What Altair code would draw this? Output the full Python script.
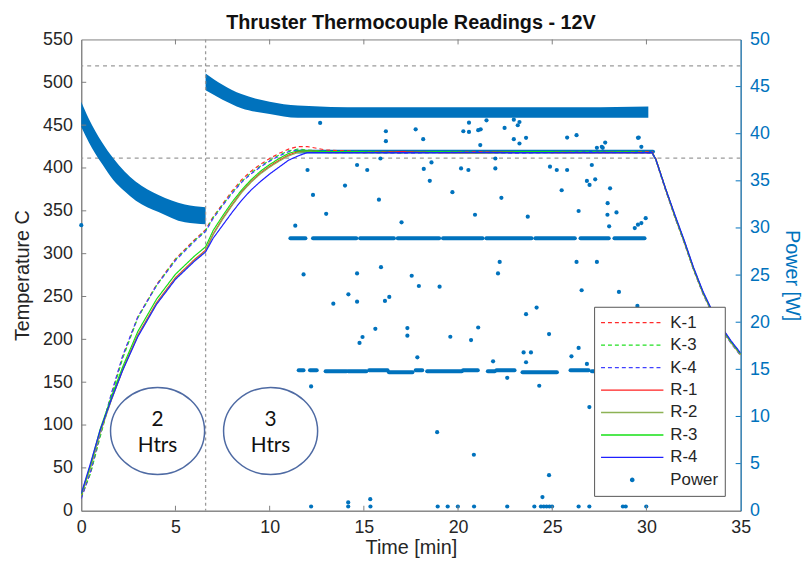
import altair as alt
import pandas as pd

TITLE = "Thruster Thermocouple Readings - 12V"

# ---------------- temperature series (deg C) ----------------
TIME = [0, 0.5, 1.0, 1.6, 2.2, 3.0, 4.0, 5.0, 6.0, 6.6,
        7.0, 7.5, 8.0, 8.5, 9.0, 9.5, 10.0, 10.5, 11.0, 11.5,
        12.0, 13.0, 15.0, 17.0, 19.0, 21.0, 23.0, 25.0, 27.0, 29.0,
        30.3, 30.5, 31.0, 31.5, 32.0, 32.5, 33.0, 33.5, 34.0, 34.5, 35.0]
K1 = [15, 45, 88, 136, 180, 226, 264, 294, 316, 328,
      343, 358, 373, 386, 396, 404, 411, 417, 422, 425,
      425, 421, 419, 419, 418, 419, 418, 419, 418, 419,
      419, 411, 377, 345, 315, 283, 255, 232, 213, 197, 183]
K3 = [16, 44, 86, 134, 178, 225, 263, 293, 315, 327,
      342, 357, 371, 384, 394, 402, 409, 415, 420, 422,
      421, 419, 418, 418, 419, 418, 418, 418, 419, 418,
      418, 410, 376, 344, 314, 282, 254, 231, 212, 196, 182]
K4 = [14, 46, 89, 137, 181, 226, 263, 292, 314, 326,
      341, 356, 370, 383, 393, 401, 408, 414, 419, 421,
      420, 418, 418, 417, 418, 418, 417, 418, 418, 418,
      417, 409, 375, 343, 313, 281, 253, 230, 211, 195, 181]
R1 = [18, 52, 92, 130, 165, 205, 243, 272, 293, 304,
      323, 341, 357, 372, 384, 394, 402, 409, 415, 419,
      420, 419, 418, 419, 418, 418, 419, 418, 418, 418,
      418, 410, 376, 344, 314, 282, 254, 231, 212, 196, 182]
R2 = [18, 51, 91, 129, 164, 204, 242, 271, 292, 303,
      322, 340, 356, 371, 383, 393, 401, 408, 414, 418,
      419, 418, 418, 418, 418, 417, 418, 418, 418, 418,
      418, 410, 376, 344, 314, 282, 254, 231, 212, 196, 182]
R3 = [19, 54, 95, 133, 168, 209, 247, 276, 297, 308,
      327, 344, 360, 374, 386, 396, 404, 411, 417, 420,
      420, 419, 419, 418, 419, 418, 419, 419, 418, 419,
      418, 410, 377, 345, 315, 283, 255, 232, 213, 197, 183]
R4 = [20, 56, 94, 130, 164, 203, 241, 270, 291, 302,
      318, 333, 348, 362, 374, 384, 393, 401, 409, 414,
      418, 418, 418, 418, 418, 418, 418, 418, 418, 418,
      418, 410, 377, 346, 316, 284, 256, 233, 214, 198, 184]

SERIES = ["K-1", "K-3", "K-4", "R-1", "R-2", "R-3", "R-4"]
LEGEND_ITEMS = SERIES + ["Power"]
COLORS = ["#FF2A2A", "#22E022", "#4040FF", "#FF2020", "#8DB255", "#16E016", "#2020FF", "#0072BD"]
LINE_DASHES = [[4, 3], [4, 3], [4, 3], [1, 0], [1, 0], [1, 0], [1, 0]]

# ---------------- power (W) ----------------
# dense noisy bands: upper / lower envelope
BAND1_T = [0, 0.4, 1.1, 1.7, 2.3, 2.9, 4.1, 5.5, 6.6]
BAND1_HI = [43.4, 41.6, 39.1, 37.4, 36.0, 34.9, 33.5, 32.5, 32.2]
BAND1_LO = [40.7, 39.1, 36.8, 35.1, 33.9, 32.9, 31.7, 30.6, 30.4]
BAND2_T = [6.6, 7.5, 8.5, 10.0, 11.5, 15.0, 20.0, 25.0, 30.1]
BAND2_HI = [46.4, 45.2, 44.2, 43.4, 43.0, 42.8, 42.8, 42.8, 42.9]
BAND2_LO = [44.6, 43.6, 42.7, 42.1, 41.7, 41.7, 41.7, 41.7, 41.7]

# horizontal streaks of points: level, start, end
STREAK_P = [38.1,
            28.9, 28.9, 28.9, 28.9, 28.9, 28.9, 28.9, 28.9, 28.9,
            14.9, 14.9, 14.8, 14.8, 14.9, 14.7, 14.9, 14.8, 14.9, 14.8, 14.9, 14.7, 14.9, 14.8]
STREAK_T0 = [11.5,
             11.1, 12.3, 14.8, 16.8, 19.2, 21.5, 24.1, 26.5, 28.3,
             11.54, 12.14, 12.97, 14.17, 15.28, 16.33, 17.75, 18.36, 20.27, 21.58, 22.04, 23.42, 25.97, 27.1]
STREAK_T1 = [30.35,
             11.9, 14.6, 16.6, 19.0, 21.3, 23.9, 26.2, 28.0, 29.9,
             11.8, 12.5, 14.08, 15.13, 16.26, 17.58, 18.1, 20.2, 21.05, 21.95, 23.0, 25.25, 26.93, 29.9]

# scattered individual power samples
PT_T = [0.0, 11.36, 11.80, 14.64, 15.91, 17.54, 17.92, 19.02, 22.12, 22.21, 26.29, 27.37,
        14.18, 13.38, 14.64, 16.12, 16.35, 26.56, 28.54, 23.61, 24.17, 15.61, 17.31, 17.31,
        14.93, 14.77, 19.59, 21.07, 20.69, 24.83, 17.84, 21.86, 23.48, 23.87, 23.61, 26.40,
        26.02, 26.84, 12.20, 24.31, 22.61, 26.97, 18.89, 20.84, 24.83, 24.48, 14.17, 15.34,
        12.2, 14.17, 15.35, 18.92, 19.45, 19.99, 20.85, 22.61, 24.05, 24.4, 24.55, 24.7,
        24.85, 24.99, 26.4, 26.97, 28.75, 28.9, 29.99,
        12.68, 16.17, 16.17, 17.75, 18.15, 20.28, 20.58, 20.58, 21.07, 21.2, 21.18, 21.51,
        22.47, 22.96, 23.17, 23.26, 22.96, 23.26, 23.61, 25.79, 26.29, 27.81, 29.59, 29.73,
        27.63, 15.88, 12.01, 14.64, 15.18, 18.18, 18.59, 20.16, 20.55, 21.98, 21.98, 24.88,
        25.24, 25.79, 27.1, 27.68, 27.37, 29.55, 26.84, 26.98, 27.28, 28.07, 27.94, 27.93,
        28.02, 28.41, 29.38, 29.55, 29.73, 29.96, 29.52,
        12.3, 13.0, 14.0, 15.8, 18.5, 19.7, 22.3, 23.7, 25.5, 26.4, 17.0, 20.9]
PT_W = [30.3, 30.24, 25.07, 25.18, 25.84, 24.93, 23.84, 23.77, 25.18, 26.40, 26.40, 26.40,
        22.96, 21.97, 22.18, 22.26, 22.68, 23.39, 23.21, 20.85, 21.55, 19.30, 19.38, 18.57,
        18.43, 17.80, 18.46, 19.44, 18.11, 18.74, 16.28, 15.85, 16.80, 16.80, 15.75, 17.27,
        16.38, 15.58, 13.19, 13.26, 14.10, 11.00, 8.33, 5.94, 3.77, 1.45, 0.88, 1.23,
        0.45, 0.45, 0.45, 0.45, 0.45, 0.45, 0.45, 0.45, 0.45, 0.45, 0.45, 0.45,
        0.45, 0.45, 0.45, 0.45, 0.45, 0.45, 0.45,
        41.14, 40.26, 39.21, 40.47, 39.42, 40.26, 40.19, 41.17, 40.37, 40.47, 38.79, 41.42,
        40.61, 41.49, 40.90, 41.24, 39.42, 38.96, 39.56, 39.59, 39.84, 39.06, 39.59, 38.61,
        38.61, 37.37, 36.15, 36.68, 36.15, 36.26, 36.95, 36.32, 36.15, 37.37, 36.32, 36.5,
        36.15, 36.15, 36.68, 38.5, 38.5, 39.56, 34.99, 34.57, 35.16, 34.21, 32.63, 31.40,
        30.17, 31.65, 29.99, 30.35, 30.52, 31.04, 21.73,
        33.5, 31.5, 34.5, 33.0, 35.0, 33.8, 33.2, 31.2, 34.0, 31.8, 30.6, 31.4]

# reference lines / annotations
H_REF_P = [47.2, 37.4]
V_REF_T = [6.6]
ELLIPSE_T = [4.05, 10.05]
ELLIPSE_TEMP = [93, 93]
NOTE_T = [4.05, 4.05, 10.05, 10.05]
NOTE_TEMP = [106, 76, 106, 76]
NOTE_TEXT = ["2", "Htrs", "3", "Htrs"]

X_TICKS = [0, 5, 10, 15, 20, 25, 30, 35]
TEMP_TICKS = list(range(0, 551, 50))
POW_TICKS = list(range(0, 51, 5))

POWER_BLUE = "#0072BD"
AXIS_GRAY = "#808080"
TEXT_DARK = "#262626"
W, H = 666, 476

# ---------------- data frames ----------------
rows = []
for name, vals in zip(SERIES, [K1, K3, K4, R1, R2, R3, R4]):
    assert len(vals) == len(TIME), name
    for t, v in zip(TIME, vals):
        rows.append({"t": t, "temp": v, "series": name})
lines_df = pd.DataFrame(rows)
legend_df = pd.DataFrame({"series": LEGEND_ITEMS, "t": [None] * 8, "temp": [None] * 8})
band1_df = pd.DataFrame({"t": BAND1_T, "hi": BAND1_HI, "lo": BAND1_LO})
band2_df = pd.DataFrame({"t": BAND2_T, "hi": BAND2_HI, "lo": BAND2_LO})
streak_df = pd.DataFrame({"p": STREAK_P, "t0": STREAK_T0, "t1": STREAK_T1})
pts_df = pd.DataFrame({"t": PT_T, "p": PT_W})
href_df = pd.DataFrame({"p": H_REF_P})
vref_df = pd.DataFrame({"t": V_REF_T})
ell_df = pd.DataFrame({"t": ELLIPSE_T, "temp": ELLIPSE_TEMP})
note_df = pd.DataFrame({"t": NOTE_T, "temp": NOTE_TEMP, "txt": NOTE_TEXT})
xt_df = pd.DataFrame({"t": X_TICKS[1:-1]})
tt_df = pd.DataFrame({"temp": TEMP_TICKS[1:-1]})
pt_df = pd.DataFrame({"p": POW_TICKS[1:-1]})

# ---------------- scales / axes ----------------
X_SCALE = alt.Scale(domain=[0, 35], nice=False, zero=False)
T_SCALE = alt.Scale(domain=[0, 550], nice=False, zero=False)
P_SCALE = alt.Scale(domain=[0, 50], nice=False, zero=False)

X_AXIS = alt.Axis(values=X_TICKS, title="Time [min]", grid=False, ticks=False,
                  labelFontSize=18, titleFontSize=20, titleFontWeight="normal",
                  labelColor=TEXT_DARK, titleColor=TEXT_DARK, domainColor=AXIS_GRAY,
                  labelPadding=8, titlePadding=1, labelFlush=False, labelOverlap=False)
T_AXIS = alt.Axis(orient="left", values=TEMP_TICKS, title="Temperature C", grid=False, ticks=False,
                  labelFontSize=18, titleFontSize=20, titleFontWeight="normal",
                  labelColor=TEXT_DARK, titleColor=TEXT_DARK, domainColor=AXIS_GRAY,
                  labelPadding=9, titlePadding=10, labelFlush=False, labelOverlap=False)
P_AXIS = alt.Axis(orient="right", values=POW_TICKS, title="Power [W]", grid=False, ticks=False,
                  labelFontSize=18, titleFontSize=20, titleFontWeight="normal",
                  labelColor=POWER_BLUE, titleColor=POWER_BLUE, domainColor=POWER_BLUE,
                  labelPadding=9, titlePadding=12, labelFlush=False, labelOverlap=False)


def dash_path(dash, gap, total=63.0):
    u = 2.0 / total
    segs, x = [], 0.0
    while x < total - 0.01:
        x2 = min(x + dash, total)
        segs.append(f"M{-1 + x * u:.3f},0L{-1 + x2 * u:.3f},0")
        x = x2 + gap
    return "".join(segs)


SOLID = "M-1,0L1,0"
DASHED = dash_path(4, 3)
DOT = ("M-0.054,0A0.054,0.054,0,1,0,0.054,0A0.054,0.054,0,1,0,-0.054,0"
       "M-0.022,0A0.022,0.022,0,1,0,0.022,0A0.022,0.022,0,1,0,-0.022,0")
SHAPES = [DASHED, DASHED, DASHED, SOLID, SOLID, SOLID, SOLID, DOT]

LEG = alt.Legend(title=None, orient="none", legendX=518, legendY=270,
                 symbolSize=3969, symbolStrokeWidth=1.3, symbolOpacity=1, clipHeight=20,
                 rowPadding=2.7, labelFontSize=17, labelFont="Liberation Sans",
                 labelColor=TEXT_DARK, labelOffset=6, padding=6,
                 fillColor="white", strokeColor="#555555")

x_t = alt.X("t:Q", scale=X_SCALE, axis=X_AXIS)

# ---------------- power layer (right axis) ----------------
band1 = alt.Chart(band1_df).mark_area(color=POWER_BLUE, opacity=1, interpolate="monotone").encode(
    x=x_t, y=alt.Y("hi:Q", scale=P_SCALE, axis=P_AXIS), y2="lo:Q")
band2 = alt.Chart(band2_df).mark_area(color=POWER_BLUE, opacity=1, interpolate="monotone").encode(
    x=x_t, y=alt.Y("hi:Q", scale=P_SCALE, axis=P_AXIS), y2="lo:Q")
streaks = alt.Chart(streak_df).mark_rule(color=POWER_BLUE, strokeWidth=4, strokeCap="round").encode(
    x=alt.X("t0:Q", scale=X_SCALE, axis=X_AXIS), x2="t1:Q",
    y=alt.Y("p:Q", scale=P_SCALE, axis=P_AXIS))
points = alt.Chart(pts_df).mark_circle(color=POWER_BLUE, size=18, opacity=1).encode(
    x=x_t, y=alt.Y("p:Q", scale=P_SCALE, axis=P_AXIS))
hrefs = alt.Chart(href_df).mark_rule(color="#9a9a9a", strokeDash=[4, 4], strokeWidth=1.3).encode(
    y=alt.Y("p:Q", scale=P_SCALE, axis=P_AXIS))
rticks = alt.Chart(pt_df).mark_rule(color=POWER_BLUE, strokeWidth=1).encode(
    y=alt.Y("p:Q", scale=P_SCALE, axis=P_AXIS), x=alt.value(W), x2=alt.value(W - 5))
power = alt.layer(hrefs, band1, band2, streaks, points, rticks)

# ---------------- temperature layer (left axis) ----------------
y_temp = alt.Y("temp:Q", scale=T_SCALE, axis=T_AXIS)
vref = alt.Chart(vref_df).mark_rule(color="#9a9a9a", strokeDash=[3, 3], strokeWidth=1.3).encode(x=x_t)
bticks = alt.Chart(xt_df).mark_rule(color=AXIS_GRAY).encode(x=x_t, y=alt.value(H), y2=alt.value(H - 5))
tticks = alt.Chart(xt_df).mark_rule(color=AXIS_GRAY).encode(x=x_t, y=alt.value(0), y2=alt.value(5))
lticks = alt.Chart(tt_df).mark_rule(color=AXIS_GRAY).encode(y=y_temp, x=alt.value(0), x2=alt.value(5))
ellipses = alt.Chart(ell_df).mark_point(
    shape="M-1,0A1,0.926,0,1,0,1,0A1,0.926,0,1,0,-1,0", size=9025, filled=False,
    stroke="#4E6AA3", strokeWidth=1.5, opacity=1).encode(x=x_t, y=y_temp)
notes = alt.Chart(note_df).mark_text(font="Lato", fontSize=21, color="#111111").encode(
    x=x_t, y=y_temp, text="txt:N")
lines = alt.Chart(lines_df).mark_line(strokeWidth=1.2, clip=True).encode(
    x=x_t, y=y_temp,
    stroke=alt.Stroke("series:N", scale=alt.Scale(domain=SERIES, range=COLORS[:7]), legend=None),
    strokeDash=alt.StrokeDash("series:N", scale=alt.Scale(domain=SERIES, range=LINE_DASHES), legend=None))
legend_layer = alt.Chart(legend_df).mark_point(filled=False).encode(
    x=x_t, y=y_temp,
    color=alt.Color("series:N", scale=alt.Scale(domain=LEGEND_ITEMS, range=COLORS), legend=LEG),
    shape=alt.Shape("series:N", scale=alt.Scale(domain=LEGEND_ITEMS, range=SHAPES), legend=LEG))
temp = alt.layer(vref, bticks, tticks, lticks, ellipses, notes, lines, legend_layer)

chart = alt.layer(power, temp).resolve_scale(y="independent").properties(
    width=W, height=H,
    autosize=alt.AutoSizeParams(type="none"),
    padding={"left": 74, "top": 29, "right": 64, "bottom": 47},
    title=alt.TitleParams(TITLE, fontSize=20, fontWeight="bold", font="Liberation Sans",
                          color="#111111", anchor="middle", offset=8, baseline="alphabetic", dy=26),
).configure(font="Liberation Sans").configure_view(stroke=AXIS_GRAY, strokeWidth=1)

chart.save("out.html", embed_options={"renderer": "svg", "actions": False})
